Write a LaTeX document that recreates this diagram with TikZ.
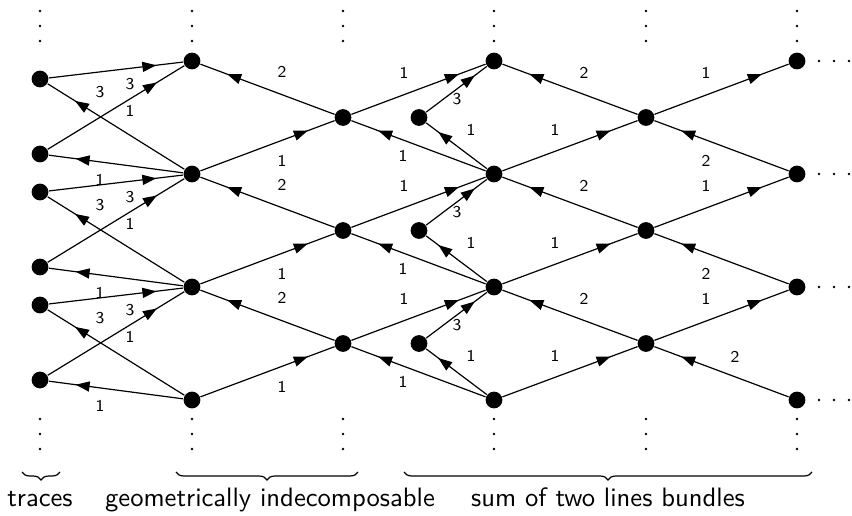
\documentclass[tikz,border=0pt]{standalone}
\usetikzlibrary{arrows.meta,decorations.markings,decorations.pathreplacing}
\begin{document}
\begin{tikzpicture}[x=0.3756pt,y=-0.3756pt,font=\sffamily,line width=0.45pt,
  pt/.style={circle,fill=black,inner sep=0pt,minimum size=6.3pt},
  arr/.style={postaction={decorate},decoration={markings,mark=at position 0.8 with {\arrow{Triangle[length=5.2pt,width=3.8pt]}}}},
  lab/.style={font=\sffamily\fontsize{6.2}{7}\selectfont,inner sep=0pt},
  brc/.style={decorate,decoration={brace,mirror,amplitude=3pt}},
  captxt/.style={anchor=base,inner sep=0pt}]
\path[use as bounding box] (0,0) rectangle (852,515);
% trace nodes
\node[pt] (T1) at (40,79) {};
\node[pt] (T2) at (40,154) {};
\node[pt] (T3) at (40,192) {};
\node[pt] (T4) at (40,267) {};
\node[pt] (T5) at (40,305) {};
\node[pt] (T6) at (40,380) {};
% columns
\node[pt] (A0) at (192,61) {};
\node[pt] (A1) at (192,174) {};
\node[pt] (A2) at (192,287) {};
\node[pt] (A3) at (192,400) {};
\node[pt] (B0) at (343,117.5) {};
\node[pt] (B1) at (343,230.5) {};
\node[pt] (B2) at (343,343.5) {};
\node[pt] (S0) at (419,117.5) {};
\node[pt] (S1) at (419,230.5) {};
\node[pt] (S2) at (419,343.5) {};
\node[pt] (C0) at (494,61) {};
\node[pt] (C1) at (494,174) {};
\node[pt] (C2) at (494,287) {};
\node[pt] (C3) at (494,400) {};
\node[pt] (D0) at (646,117.5) {};
\node[pt] (D1) at (646,230.5) {};
\node[pt] (D2) at (646,343.5) {};
\node[pt] (E0) at (797,61) {};
\node[pt] (E1) at (797,174) {};
\node[pt] (E2) at (797,287) {};
\node[pt] (E3) at (797,400) {};
% trace edges
\draw[arr] (T1) -- (A0);
\draw[arr] (A1) -- (T1);
\draw[arr] (T2) -- (A0);
\draw[arr] (A1) -- (T2);
\draw[arr] (T3) -- (A1);
\draw[arr] (A2) -- (T3);
\draw[arr] (T4) -- (A1);
\draw[arr] (A2) -- (T4);
\draw[arr] (T5) -- (A2);
\draw[arr] (A3) -- (T5);
\draw[arr] (T6) -- (A2);
\draw[arr] (A3) -- (T6);
% A-B
\draw[arr] (B0) -- (A0);
\draw[arr] (A1) -- (B0);
\draw[arr] (B1) -- (A1);
\draw[arr] (A2) -- (B1);
\draw[arr] (B2) -- (A2);
\draw[arr] (A3) -- (B2);
% B-C
\draw[arr] (B0) -- (C0);
\draw[arr] (C1) -- (B0);
\draw[arr] (B1) -- (C1);
\draw[arr] (C2) -- (B1);
\draw[arr] (B2) -- (C2);
\draw[arr] (C3) -- (B2);
% S-C
\draw[arr] (S0) -- (C0);
\draw[arr] (C1) -- (S0);
\draw[arr] (S1) -- (C1);
\draw[arr] (C2) -- (S1);
\draw[arr] (S2) -- (C2);
\draw[arr] (C3) -- (S2);
% C-D
\draw[arr] (D0) -- (C0);
\draw[arr] (C1) -- (D0);
\draw[arr] (D1) -- (C1);
\draw[arr] (C2) -- (D1);
\draw[arr] (D2) -- (C2);
\draw[arr] (C3) -- (D2);
% D-E
\draw[arr] (D0) -- (E0);
\draw[arr] (E1) -- (D0);
\draw[arr] (D1) -- (E1);
\draw[arr] (E2) -- (D1);
\draw[arr] (D2) -- (E2);
\draw[arr] (E3) -- (D2);
% labels
\foreach \k/\d in {0/0,1/113,2/226}{
  \node[lab] (ta\k) at (100,{92+\d}) {3};
  \node[lab] (tb\k) at (130,{84+\d}) {3};
  \node[lab] (tc\k) at (130,{111+\d}) {1};
  \node[lab] (td\k) at (100,{180+\d}) {1};
  \node[lab] (ab\k) at (282,{72+\d}) {2};
  \node[lab] (ba\k) at (282,{161+\d}) {1};
  \node[lab] (bc\k) at (404,{73+\d}) {1};
  \node[lab] (cb\k) at (403,{156+\d}) {1};
  \node[lab] (sc\k) at (457,{99+\d}) {3};
  \node[lab] (cs\k) at (471,{130+\d}) {1};
  \node[lab] (dc\k) at (584,{73+\d}) {2};
  \node[lab] (cd\k) at (555,{130+\d}) {1};
  \node[lab] (de\k) at (706,{73+\d}) {1};
}
\node[lab] (ed0) at (706,161) {2};
\node[lab] (ed1) at (706,274) {2};
\node[lab] (ed2) at (735,357) {2};
% vertical dots
\foreach \x in {40,192,343,494,646,797}
  \foreach \y in {11,26,41,419,434,449}
    \fill (\x,\y) circle (0.55pt);
% horizontal dots
\foreach \y in {61,174,287,400}
  \foreach \x in {819,834,849}
    \fill (\x,\y) circle (0.55pt);
% braces
\draw[brc] (22,472) -- (60,472);
\draw[brc] (176,472) -- (358,472);
\draw[brc] (404,472) -- (812,472);
\node[captxt] (c1) at (40,506) {traces};
\node[captxt] (c2) at (270,506) {geometrically indecomposable};
\node[captxt] (c3) at (608,506) {sum of two lines bundles};
\end{tikzpicture}
\end{document}
